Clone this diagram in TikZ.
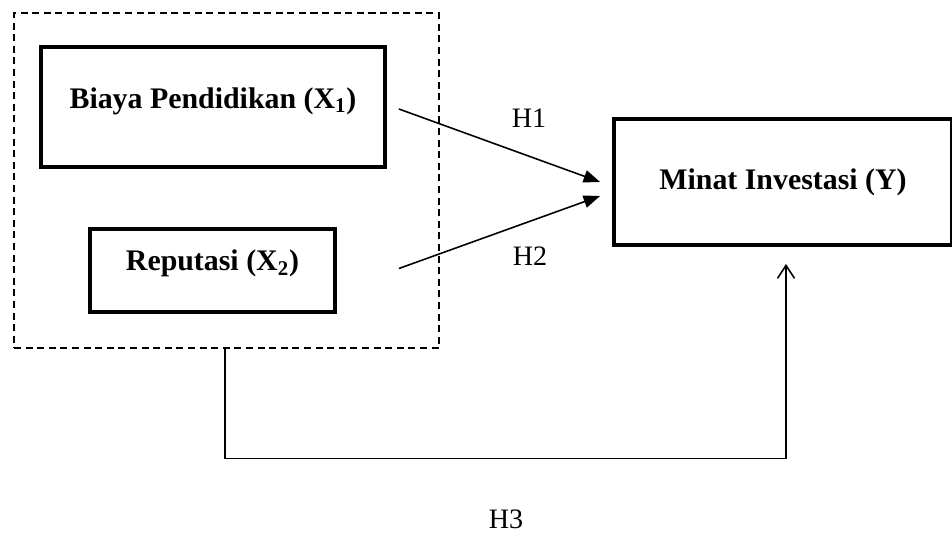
\documentclass[tikz,border=0pt]{standalone}
\usepackage{fontspec}
\setmainfont{Liberation Serif}
\usepackage{tikz}
\usetikzlibrary{calc,arrows.meta,positioning}
\tikzset{
    x=0.02cm,y=-0.02cm,
    var/.style ={rectangle, draw, line width=2.2pt, font=\fontsize{17}{20}\selectfont\bfseries},
    group/.style = {rectangle, draw, line width=0.75pt, dash pattern=on 4pt off 2.6pt, minimum width=8.5cm, minimum height=6.7cm},
    hyp/.style = {-{Triangle[length=0.33cm,width=0.25cm]}, line width=0.9pt},
    hypopen/.style = {-{Straight Barb[length=0.26cm,width=0.34cm]}, line width=0.9pt},
    el/.style = {inner sep=0pt, font=\fontsize{16}{19}\selectfont}
}

\begin{document}
\begin{tikzpicture}
      \useasboundingbox (0,0) rectangle (952,537);
      \node[group] (grp) at (226.5,180.5) {};
      \node[var, minimum width=6.88cm, minimum height=2.4cm, text depth=0.36cm] (X1) at (213,107) {Biaya Pendidikan (X\textsubscript{1})};
      \node[var, minimum width=4.9cm, minimum height=1.66cm, text depth=0.4cm] (X2) at (212.5,270.5) {Reputasi (X\textsubscript{2})};
      \node[var, minimum width=6.76cm, minimum height=2.52cm] (Y) at (783,182) {Minat Investasi (Y)};

      \draw[hyp] ($(X1.east)+(12,2)$) -- ($(Y.west)+(-12,0)$);
      \draw[hyp] ($(X2.east)+(62,-2)$) -- ($(Y.west)+(-12,14)$);
      \draw[hypopen] ($(grp.south)+(-1.5,0)$) -- ++(0,110) -| ($(Y.south)+(3,17)$);

      \node[el] (H1) at (529,118) {H1};
      \node[el] (H2) at (530,256) {H2};
      \node[el] (H3) at (506,519) {H3};
    \end{tikzpicture}
\end{document}
